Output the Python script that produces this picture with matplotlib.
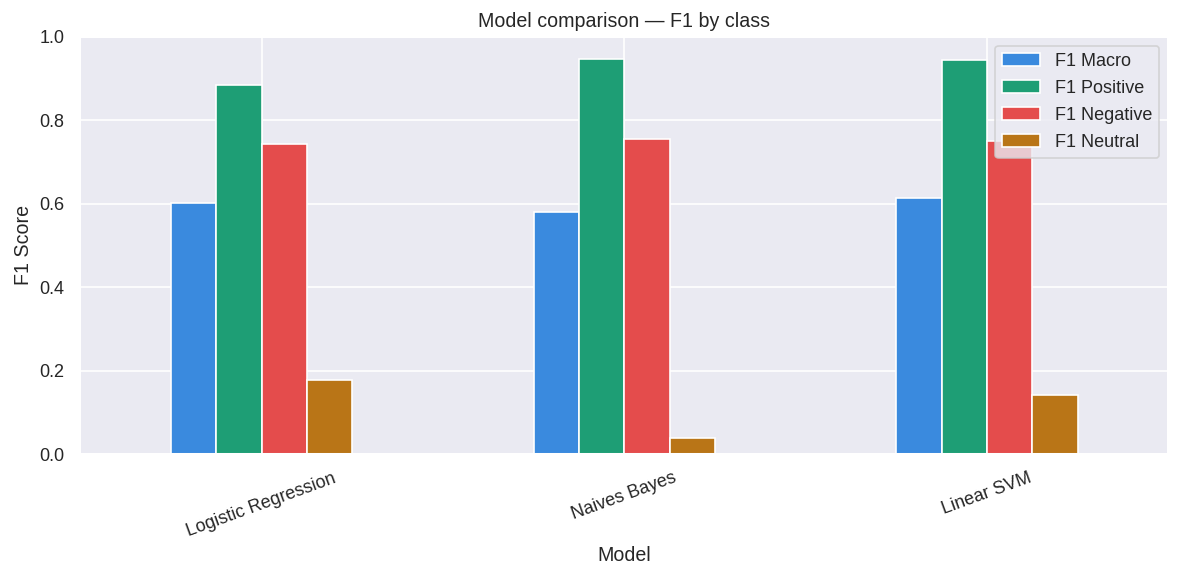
import numpy as np
import pandas as pd
import seaborn as sns
import matplotlib
matplotlib.use("Agg")
from matplotlib import pyplot as plt

models = ["Logistic Regression", "Naives Bayes", "Linear SVM"]
f1_macro = [0.601, 0.579, 0.614]
f1_positive = [0.884, 0.947, 0.945]
f1_negative = [0.742, 0.754, 0.750]
f1_neutral = [0.177, 0.038, 0.142]
colors = ["#3a8ade", "#1e9e75", "#e44c4c", "#b97517"]

sns.set_theme(style="darkgrid")
plt.rcParams["font.family"] = ["Liberation Sans", "DejaVu Sans"]

df = pd.DataFrame({
    "F1 Macro": f1_macro,
    "F1 Positive": f1_positive,
    "F1 Negative": f1_negative,
    "F1 Neutral": f1_neutral,
}, index=models)

fig, ax = plt.subplots(figsize=(1180 / 118, 580 / 118), dpi=118)
df.plot(kind="bar", ax=ax, color=colors, edgecolor="white", rot=20)
ax.set_ylim(0, 1.0)
ax.set_title("Model comparison — F1 by class")
ax.set_xlabel("Model")
ax.set_ylabel("F1 Score")
ax.legend(loc="upper right", fontsize=11, labelspacing=0.56, handlelength=2.1)
plt.subplots_adjust(left=0.068, right=0.990, top=0.937, bottom=0.217)
plt.savefig("out.png", dpi=118)
